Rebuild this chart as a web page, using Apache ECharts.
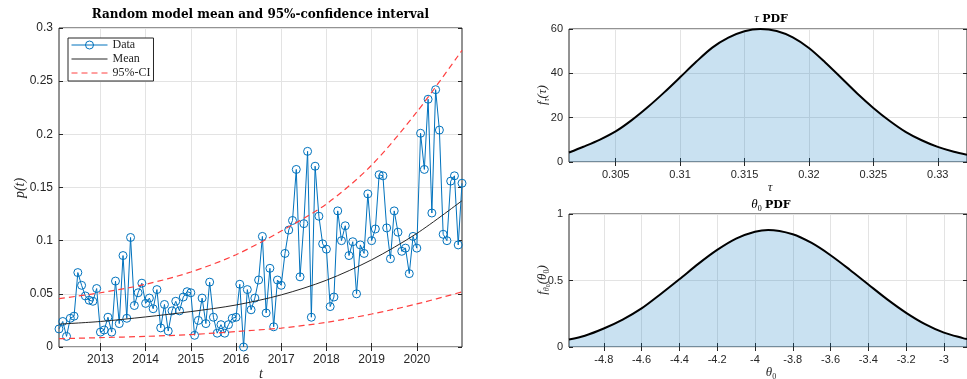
<!DOCTYPE html>
<html><head><meta charset="utf-8">
<script src="https://cdn.jsdelivr.net/npm/echarts@6/dist/echarts.min.js"></script>
<style>html,body{margin:0;padding:0;background:#fff}#c{width:967px;height:379px}</style>
</head><body><div id="c"></div>
<script>
// ---------- Left chart data (monthly, Jan 2012 .. Dec 2020, month-end) ----------
const startYear = 2012;
const monthCount = 108;
const dataValues = [
  0.017,0.024,0.010,0.027,0.029,0.070,0.058,0.048,0.044,0.043,0.055,0.014,
  0.016,0.028,0.014,0.062,0.022,0.086,0.027,0.103,0.039,0.051,0.060,0.041,
  0.046,0.036,0.054,0.018,0.040,0.015,0.034,0.043,0.034,0.047,0.052,0.051,
  0.011,0.025,0.046,0.022,0.061,0.028,0.013,0.021,0.013,0.021,0.027,0.028,
  0.059,0.000,0.054,0.035,0.046,0.063,0.104,0.032,0.074,0.019,0.063,0.058,
  0.088,0.110,0.119,0.167,0.066,0.116,0.184,0.028,0.170,0.123,0.097,0.092,
  0.038,0.047,0.128,0.100,0.114,0.086,0.099,0.050,0.096,0.088,0.144,0.100,
  0.111,0.162,0.161,0.112,0.083,0.128,0.108,0.090,0.093,0.069,0.104,0.093,
  0.201,0.167,0.233,0.126,0.242,0.204,0.106,0.100,0.156,0.161,0.096,0.154
];
const curveT     = [2012.0833, 2013, 2014, 2015, 2016, 2017, 2018, 2019, 2020, 2021];
const meanValues = [0.0215, 0.0240, 0.0283, 0.0333, 0.0395, 0.0490, 0.0628, 0.0820, 0.1068, 0.1376];
const upperCI    = [0.0455, 0.0510, 0.0590, 0.0705, 0.0868, 0.1090, 0.1345, 0.1710, 0.2210, 0.2790];
const lowerCI    = [0.0078, 0.0088, 0.0100, 0.0117, 0.0145, 0.0178, 0.0232, 0.0310, 0.0405, 0.0518];
const yearTicks  = [2013, 2014, 2015, 2016, 2017, 2018, 2019, 2020];

// ---------- Right top: tau PDF ----------
const tauX   = [0.30138, 0.3025, 0.30375, 0.305, 0.30625, 0.3075, 0.30875, 0.31, 0.31125, 0.3125, 0.31375, 0.315, 0.31622,
                0.3175, 0.31875, 0.32, 0.32125, 0.3225, 0.32375, 0.325, 0.32625, 0.3275, 0.32875, 0.33, 0.33125, 0.33227];
const tauPdf = [4.3, 6.9, 10.0, 13.8, 18.9, 24.8, 31.3, 38.2, 45.2, 51.6, 56.1, 59.0, 60.0,
                59.1, 56.2, 51.4, 45.0, 38.0, 30.9, 24.4, 18.6, 13.6, 9.8, 6.8, 4.6, 3.3];
const tauTicks = [0.305, 0.31, 0.315, 0.32, 0.325, 0.33];

// ---------- Right bottom: theta0 PDF ----------
const thetaX   = [-4.984, -4.9, -4.8, -4.7, -4.6, -4.5, -4.4, -4.3, -4.2, -4.1, -4.0, -3.93,
                  -3.8, -3.7, -3.6, -3.5, -3.4, -3.3, -3.2, -3.1, -3.0, -2.9, -2.878];
const thetaPdf = [0.056, 0.085, 0.139, 0.206, 0.290, 0.397, 0.509, 0.625, 0.730, 0.815, 0.866, 0.880,
                  0.848, 0.782, 0.690, 0.583, 0.470, 0.358, 0.257, 0.172, 0.108, 0.067, 0.060];
const thetaTicks = [-4.8, -4.6, -4.4, -4.2, -4, -3.8, -3.6, -3.4, -3.2, -3];

const monthT = [];
for (let i = 0; i < monthCount; i++) monthT.push(startYear + (i + 1) / 12);
const dataPairs = monthT.map((t, i) => [t, dataValues[i]]);
const zip = (a, b) => a.map((x, i) => [x, b[i]]);

const AX = '#262626';
const GRIDC = '#e3e3e3';
const SANS = 'Liberation Sans';
const SERIF = 'Liberation Serif';

function xAx(gi, min, max, ticks, fs, fmt, top) {
  return {
    type: 'value', gridIndex: gi, min, max, position: top ? 'top' : 'bottom',
    axisLine: { show: false },
    axisTick: { show: true, inside: true, length: 4, customValues: ticks, lineStyle: { color: AX } },
    axisLabel: { show: !top, customValues: ticks, color: AX, fontFamily: SANS, fontSize: fs, margin: 7, formatter: fmt },
    splitLine: { show: !top, lineStyle: { color: GRIDC, width: 1 } }
  };
}
function yAx(gi, min, max, interval, fs, right) {
  return {
    type: 'value', gridIndex: gi, min, max, interval, position: right ? 'right' : 'left',
    axisLine: { show: false },
    axisTick: { show: true, inside: true, length: 4, lineStyle: { color: AX } },
    axisLabel: { show: !right, color: AX, fontFamily: SANS, fontSize: fs, margin: 6 },
    splitLine: { show: !right, lineStyle: { color: GRIDC, width: 1 } }
  };
}

const chart = echarts.init(document.getElementById('c'), null, { renderer: 'canvas' });
const gridBox = { show: true, borderColor: AX, borderWidth: 1, backgroundColor: 'transparent' };
const hiddenSym = { color: 'rgba(0,0,0,0)', borderColor: 'rgba(0,0,0,0)', borderWidth: 0, opacity: 0 };
const option = {
  animation: false,
  backgroundColor: '#fff',
  grid: [
    Object.assign({ left: 59, top: 28, width: 403, height: 319 }, gridBox),
    Object.assign({ left: 569, top: 29, width: 404, height: 133 }, gridBox),
    Object.assign({ left: 569, top: 214, width: 404, height: 133 }, gridBox)
  ],
  xAxis: [
    xAx(0, 2012.0833, 2021.0, yearTicks, 12, v => String(Math.round(v)), false),
    xAx(0, 2012.0833, 2021.0, yearTicks, 12, null, true),
    xAx(1, 0.30138, 0.33227, tauTicks, 11, null, false),
    xAx(1, 0.30138, 0.33227, tauTicks, 11, null, true),
    xAx(2, -4.984, -2.878, thetaTicks, 11, null, false),
    xAx(2, -4.984, -2.878, thetaTicks, 11, null, true)
  ],
  yAxis: [
    yAx(0, 0, 0.3, 0.05, 12, false),
    yAx(0, 0, 0.3, 0.05, 12, true),
    yAx(1, 0, 60, 20, 11, false),
    yAx(1, 0, 60, 20, 11, true),
    yAx(2, 0, 1, 0.5, 11, false),
    yAx(2, 0, 1, 0.5, 11, true)
  ],
  legend: {
    left: 68, top: 38, orient: 'vertical',
    backgroundColor: '#fff', borderColor: AX, borderWidth: 1,
    padding: [0, 3, 1, 3], itemGap: 0, itemWidth: 36, itemHeight: 10,
    textStyle: { fontFamily: SERIF, fontSize: 12, color: AX, lineHeight: 14 },
    data: [
      { name: 'Data', itemStyle: { color: 'rgba(0,0,0,0)', borderColor: '#0072BD', borderWidth: 1 }, lineStyle: { width: 1 } },
      { name: 'Mean', itemStyle: hiddenSym, lineStyle: { width: 1 } },
      { name: '95%-CI', itemStyle: hiddenSym, lineStyle: { width: 1 } }
    ]
  },
  series: [
    {
      name: 'Data', type: 'line', xAxisIndex: 0, yAxisIndex: 0, data: dataPairs,
      symbol: 'circle', symbolSize: 8, showSymbol: true,
      lineStyle: { color: '#0072BD', width: 1 },
      itemStyle: { color: 'rgba(0,0,0,0)', borderColor: '#0072BD', borderWidth: 1 },
      z: 3
    },
    {
      name: 'Mean', type: 'line', xAxisIndex: 0, yAxisIndex: 0, data: zip(curveT, meanValues),
      symbol: 'none', smooth: 0.3,
      lineStyle: { color: '#262626', width: 1 }, itemStyle: { color: '#262626' }, z: 4
    },
    {
      name: '95%-CI', type: 'line', xAxisIndex: 0, yAxisIndex: 0, data: zip(curveT, upperCI),
      symbol: 'none', smooth: 0.3,
      lineStyle: { color: '#FF4040', width: 1.2, type: [6, 4] }, itemStyle: { color: '#FF4040' }, z: 4
    },
    {
      name: '95%-CI', type: 'line', xAxisIndex: 0, yAxisIndex: 0, data: zip(curveT, lowerCI),
      symbol: 'none', smooth: 0.3,
      lineStyle: { color: '#FF4040', width: 1.2, type: [6, 4] }, itemStyle: { color: '#FF4040' }, z: 4
    },
    {
      name: 'tau', type: 'line', xAxisIndex: 2, yAxisIndex: 2, data: zip(tauX, tauPdf),
      symbol: 'none', smooth: 0.3, clip: true,
      lineStyle: { color: '#000', width: 2 },
      areaStyle: { color: 'rgba(0,114,189,0.3)', origin: 'start' }
    },
    {
      name: 'theta', type: 'line', xAxisIndex: 4, yAxisIndex: 4, data: zip(thetaX, thetaPdf),
      symbol: 'none', smooth: 0.3, clip: true,
      lineStyle: { color: '#000', width: 2 },
      areaStyle: { color: 'rgba(0,114,189,0.3)', origin: 'start' }
    }
  ],
  graphic: [
    { type: 'text', x: 260.5, y: 15, style: { text: 'Random model mean and 95%-confidence interval',
      font: 'bold 12px "DejaVu Serif"', fill: '#000', textAlign: 'center', textVerticalAlign: 'middle' } },
    { type: 'text', x: 261, y: 374, style: { text: 't', font: 'italic 14px "Liberation Serif"', fill: AX,
      textAlign: 'center', textVerticalAlign: 'middle' } },
    { type: 'text', x: 20, y: 188, rotation: Math.PI / 2, style: { text: 'p(t)', font: 'italic 14px "Liberation Serif"', fill: AX,
      textAlign: 'center', textVerticalAlign: 'middle' } },
    { type: 'text', x: 771, y: 19, style: { text: '{i|τ} {b|PDF}', textAlign: 'center', textVerticalAlign: 'middle',
      rich: { i: { fontFamily: SERIF, fontStyle: 'italic', fontSize: 13, fill: '#000' },
              b: { fontFamily: 'DejaVu Serif', fontWeight: 'bold', fontSize: 11, fill: '#000' } } } },
    { type: 'text', x: 771, y: 205, style: { text: '{i|θ}{s|0} {b|PDF}', textAlign: 'center', textVerticalAlign: 'middle',
      rich: { i: { fontFamily: SERIF, fontStyle: 'italic', fontSize: 13, fill: '#000', lineHeight: 16 },
              s: { fontFamily: SERIF, fontSize: 8, fill: '#000', verticalAlign: 'bottom', lineHeight: 16 },
              b: { fontFamily: 'DejaVu Serif', fontWeight: 'bold', fontSize: 11, fill: '#000', lineHeight: 16 } } } },
    { type: 'text', x: 770, y: 188, style: { text: 'τ', font: 'italic 13px "Liberation Serif"', fill: AX,
      textAlign: 'center', textVerticalAlign: 'middle' } },
    { type: 'text', x: 771, y: 373, style: { text: '{i|θ}{s|0}', textAlign: 'center', textVerticalAlign: 'middle',
      rich: { i: { fontFamily: SERIF, fontStyle: 'italic', fontSize: 13, fill: AX, lineHeight: 16 },
              s: { fontFamily: SERIF, fontSize: 8, fill: AX, verticalAlign: 'bottom', lineHeight: 16 } } } },
    { type: 'text', x: 543, y: 95, rotation: Math.PI / 2, style: { text: '{i|f}{s|τ}{i|(τ)}', textAlign: 'center', textVerticalAlign: 'middle',
      rich: { i: { fontFamily: SERIF, fontStyle: 'italic', fontSize: 13, fill: AX, lineHeight: 16 },
              s: { fontFamily: SERIF, fontStyle: 'italic', fontSize: 8, fill: AX, verticalAlign: 'bottom', lineHeight: 16 } } } },
    { type: 'text', x: 543, y: 280, rotation: Math.PI / 2, style: { text: '{i|f}{s|θ}{t|0}{i|(θ}{s2|0}{i|)}', textAlign: 'center', textVerticalAlign: 'middle',
      rich: { i: { fontFamily: SERIF, fontStyle: 'italic', fontSize: 13, fill: AX, lineHeight: 16 },
              s: { fontFamily: SERIF, fontStyle: 'italic', fontSize: 8, fill: AX, verticalAlign: 'bottom', lineHeight: 16 },
              t: { fontFamily: SERIF, fontSize: 6, fill: AX, verticalAlign: 'bottom', lineHeight: 14 },
              s2: { fontFamily: SERIF, fontSize: 8, fill: AX, verticalAlign: 'bottom', lineHeight: 16 } } } }
  ]
};
chart.setOption(option);
</script></body></html>
